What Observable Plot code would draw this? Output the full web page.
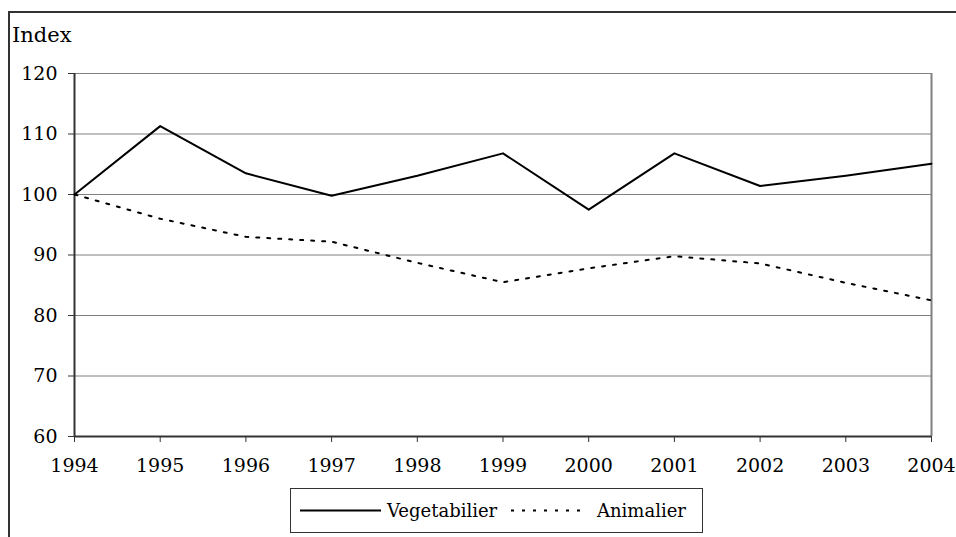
<!DOCTYPE html>
<html>
<head>
<meta charset="utf-8">
<script src="https://cdn.jsdelivr.net/npm/d3@7"></script>
<script src="https://cdn.jsdelivr.net/npm/@observablehq/plot@0.6"></script>
<style>
  html, body { margin: 0; padding: 0; background: #fff; overflow: hidden; }
  body { width: 956px; height: 537px; position: relative; font-family: "DejaVu Serif", serif; }
  #frame { position: absolute; left: 8px; top: 11px; width: 1200px; height: 1200px; border-left: 2px solid #333; border-top: 2px solid #333; box-sizing: border-box; }
  #chart { position: absolute; left: 0; top: 0; }
  #chart svg, #chart svg text { font-family: "DejaVu Serif", serif !important; }
  #ylabel { position: absolute; left: 12px; top: 21px; font-size: 21px; line-height: 28px; color: #000; }
  #legend { position: absolute; left: 290px; top: 488px; width: 413px; height: 45px; box-sizing: border-box; border: 1px solid #333; background: #fff; }
  #legend svg { position: absolute; left: 0; top: 0; }
  #legend svg text { font-family: "DejaVu Serif", serif; }
</style>
</head>
<body>
<div id="frame"></div>
<div id="chart"></div>
<div id="ylabel">Index</div>
<div id="legend"></div>
<script>
const years = [1994, 1995, 1996, 1997, 1998, 1999, 2000, 2001, 2002, 2003, 2004];
const vegetabilier = [100, 111.3, 103.5, 99.8, 103.1, 106.8, 97.5, 106.8, 101.4, 103.1, 105.1];
const animalier = [100, 96.0, 93.0, 92.2, 88.7, 85.5, 87.8, 89.8, 88.6, 85.4, 82.5];
const yTicks = [60, 70, 80, 90, 100, 110, 120];
const seriesNames = ["Vegetabilier", "Animalier"];

const rows = [];
years.forEach((yr, i) => {
  rows.push({year: yr, value: vegetabilier[i], series: seriesNames[0]});
  rows.push({year: yr, value: animalier[i], series: seriesNames[1]});
});

const chart = Plot.plot({
  width: 956,
  height: 537,
  marginLeft: 74,
  marginRight: 25,
  marginTop: 73,
  marginBottom: 101,
  style: {background: "transparent", fontSize: "19px", color: "#000"},
  x: {domain: [years[0], years[years.length - 1]]},
  y: {domain: [yTicks[0], yTicks[yTicks.length - 1]]},
  marks: [
    Plot.ruleY(yTicks.slice(1), {stroke: "#808080", strokeWidth: 1, strokeOpacity: 1}),
    Plot.ruleX([years[years.length - 1]], {stroke: "#808080", strokeWidth: 2, strokeOpacity: 1}),
    Plot.axisX({ticks: years, tickFormat: d => String(d), tickSize: 6, tickPadding: 16, label: null, stroke: "#333", strokeOpacity: 1, fill: "#000", fontSize: 19}),
    Plot.axisY({ticks: yTicks, tickSize: 6, tickPadding: 11, label: null, stroke: "#333", strokeOpacity: 1, fill: "#000", fontSize: 19}),
    Plot.ruleX([years[0]], {stroke: "#333", strokeWidth: 2}),
    Plot.ruleY([yTicks[0]], {stroke: "#333", strokeWidth: 2}),
    Plot.line(rows.filter(d => d.series === "Vegetabilier"), {x: "year", y: "value", stroke: "#000", strokeWidth: 2}),
    Plot.line(rows.filter(d => d.series === "Animalier"), {x: "year", y: "value", stroke: "#000", strokeWidth: 2, strokeDasharray: "3,8"})
  ]
});
document.getElementById("chart").appendChild(chart);

// Legend
const lg = d3.select("#legend").append("svg").attr("width", 411).attr("height", 43);
lg.append("line").attr("x1", 9).attr("x2", 90).attr("y1", 21.5).attr("y2", 21.5).attr("stroke", "#000").attr("stroke-width", 2);
lg.append("text").attr("x", 96).attr("y", 28).attr("font-size", 18).text(seriesNames[0]);
lg.append("line").attr("x1", 220).attr("x2", 296).attr("y1", 21.5).attr("y2", 21.5).attr("stroke", "#000").attr("stroke-width", 2).attr("stroke-dasharray", "3,8");
lg.append("text").attr("x", 306).attr("y", 28).attr("font-size", 18).text(seriesNames[1]);
</script>
</body>
</html>
